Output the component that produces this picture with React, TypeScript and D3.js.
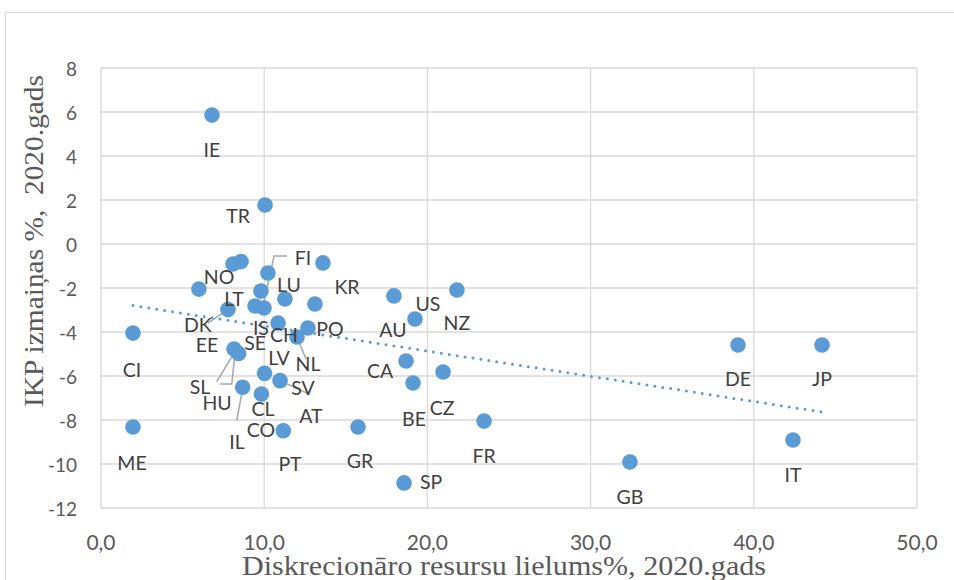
import React from "react";
import * as d3 from "d3";

// ---- Data ----
const countries = [
  "IE", "TR", "CI", "ME", "DE", "JP", "IT", "GB", "NZ", "AU", "US", "CA", "CZ",
  "BE", "FR", "SP", "GR", "KR", "LT", "NO", "LU", "DK", "IS", "CH", "AT", "EE",
  "SE", "FI", "LV", "PO", "NL", "SL", "HU", "CL", "SV", "IL", "CO", "PT",
];
const discretionaryPct = [
  6.8, 10.05, 1.96, 1.96, 39.03, 44.18, 42.4, 32.41, 21.81, 17.95, 19.24, 18.69, 20.96,
  19.12, 23.47, 18.57, 15.75, 13.6, 8.09, 8.58, 10.23, 6.0, 9.8, 11.27, 13.11, 7.78,
  9.44, 9.99, 10.85, 12.68, 12.01, 8.15, 8.43, 10.02, 10.97, 8.68, 9.83, 11.17,
];
const gdpChangePct = [
  5.86, 1.77, -4.05, -8.32, -4.59, -4.59, -8.91, -9.91, -2.09, -2.36, -3.41, -5.32, -5.82,
  -6.32, -8.05, -10.86, -8.32, -0.86, -0.91, -0.8, -1.32, -2.05, -2.14, -2.5, -2.73, -2.98,
  -2.82, -2.91, -3.59, -3.82, -4.23, -4.77, -4.98, -5.88, -6.21, -6.51, -6.82, -8.49,
];
const xTicks = [0, 10, 20, 30, 40, 50];
const yTicks = [8, 6, 4, 2, 0, -2, -4, -6, -8, -10, -12];
const xTitle = "Diskrecionāro resursu lielums%, 2020.gads";
const yTitle = "IKP izmaiņas %,  2020.gads";

// ---- Label placement (layout only, pixel offsets from the marker) ----
type Lbl = { dx: number; dy: number; leader?: [number, number][] };
const labelLayout: Record<string, Lbl> = {
  IE: { dx: 0, dy: 34 }, TR: { dx: -27, dy: 10 }, CI: { dx: -1, dy: 36 }, ME: { dx: -1, dy: 35 },
  DE: { dx: 0, dy: 34 }, JP: { dx: 0, dy: 34 }, IT: { dx: 0, dy: 34 }, GB: { dx: 0, dy: 34 },
  NZ: { dx: 0, dy: 33 }, AU: { dx: -1, dy: 34 }, US: { dx: 13, dy: -16 }, CA: { dx: -26, dy: 9 },
  CZ: { dx: -1, dy: 35 }, BE: { dx: 1, dy: 35 }, FR: { dx: 0, dy: 34 }, SP: { dx: 27, dy: -1 },
  GR: { dx: 2, dy: 33 }, KR: { dx: 24, dy: 24 }, LT: { dx: 1, dy: 34 }, NO: { dx: -22, dy: 15 },
  LU: { dx: 21, dy: 11 }, DK: { dx: -1, dy: 35 }, IS: { dx: 0, dy: 36 }, CH: { dx: -1, dy: 35 },
  AT: { dx: -4, dy: 111 },
  EE: { dx: -21, dy: 34.5, leader: [[-20, 13.5], [-4, 2.5]] },
  SE: { dx: 0, dy: 36 },
  FI: { dx: 39, dy: -51, leader: [[23, -52], [10, -52], [-1, -2]] },
  LV: { dx: 1, dy: 35 }, PO: { dx: 22, dy: 0 },
  NL: { dx: 11, dy: 26, leader: [[0, 0], [9, 22]] },
  SL: { dx: -34, dy: 38, leader: [[-17.3, 32.7], [1, 2.7]] },
  HU: { dx: -21.5, dy: 48.5, leader: [[-18.5, 30.5], [-6.8, 30.5], [-3.5, -0.5]] },
  CL: { dx: -1.5, dy: 35 },
  SV: { dx: 23, dy: 7, leader: [[0, 0], [28, 13]] },
  IL: { dx: -5.7, dy: 54.7, leader: [[0, 2], [-6, 33.4]] },
  CO: { dx: -0.5, dy: 35 }, PT: { dx: 6.7, dy: 32.3 },
};

const BLUE = "#5B9BD5";
const GRID = "#D9D9D9";
const SANS = "Lato, 'Open Sans', sans-serif";
const SERIF = "'Liberation Serif', 'Times New Roman', serif";

export default function App() {
  const W = 954;
  const H = 580;
  const x = d3.scaleLinear().domain([0, 50]).range([101, 917]);
  const y = d3.scaleLinear().domain([-12, 8]).range([508, 68]);
  const fmt = (v: number) => d3.format(".1f")(v).replace(".", ",");

  // linear trendline (least squares)
  const n = discretionaryPct.length;
  const mx = d3.mean(discretionaryPct)!;
  const my = d3.mean(gdpChangePct)!;
  let sxy = 0, sxx = 0;
  for (let i = 0; i < n; i++) {
    sxy += (discretionaryPct[i] - mx) * (gdpChangePct[i] - my);
    sxx += (discretionaryPct[i] - mx) ** 2;
  }
  const slope = sxy / sxx;
  const icpt = my - slope * mx;
  const [x0, x1] = d3.extent(discretionaryPct) as [number, number];
  const trend = d3.line<number>().x((d) => x(d)).y((d) => y(icpt + slope * d))([x0, x1]);

  const pts = countries.map((c, i) => ({
    c,
    px: x(discretionaryPct[i]),
    py: y(gdpChangePct[i]),
    l: labelLayout[c] || { dx: 0, dy: 34 },
  }));

  return (
    <svg width={W} height={H} style={{ position: "absolute", left: 0, top: 0, background: "#fff" }}>
      <rect x={5.5} y={12.5} width={1000} height={1000} fill="#fff" stroke={GRID} />
      {/* grid */}
      {xTicks.map((t) => (
        <line key={"gx" + t} x1={x(t)} x2={x(t)} y1={y(8)} y2={y(-12)} stroke={GRID} strokeWidth={1.3} />
      ))}
      {yTicks.map((t) => (
        <line key={"gy" + t} x1={x(0)} x2={x(50)} y1={y(t)} y2={y(t)} stroke={GRID} strokeWidth={1.3} />
      ))}
      {/* tick labels */}
      {yTicks.map((t) => (
        <text key={"ty" + t} x={77} y={y(t)} textAnchor="end" dominantBaseline="central"
          fontFamily={SANS} fontSize={19} fill="#595959">{t}</text>
      ))}
      {xTicks.map((t) => (
        <text key={"tx" + t} x={x(t)} y={541} textAnchor="middle" dominantBaseline="central"
          fontFamily={SANS} fontSize={21} fill="#595959">{fmt(t)}</text>
      ))}
      {/* leaders */}
      {pts.filter((p) => p.l.leader).map((p) => (
        <polyline key={"ld" + p.c}
          points={p.l.leader!.map(([a, b]) => `${p.px + a},${p.py + b}`).join(" ")}
          fill="none" stroke="#A6A6A6" strokeWidth={1.5} />
      ))}
      {/* markers */}
      {pts.map((p) => (
        <circle key={"m" + p.c} cx={p.px} cy={p.py} r={7.8} fill={BLUE} />
      ))}
      {/* trendline */}
      <path d={trend || ""} fill="none" stroke={BLUE} strokeWidth={3} strokeLinecap="round" strokeDasharray="0 8" />
      {/* data labels */}
      {pts.map((p) => (
        <text key={"l" + p.c} x={p.px + p.l.dx} y={p.py + p.l.dy} textAnchor="middle" dominantBaseline="central"
          fontFamily={SANS} fontSize={19.5} fill="#404040">{p.c}</text>
      ))}
      {/* axis titles */}
      <text x={504} y={575} textAnchor="middle" fontFamily={SERIF} fontSize={27} fill="#595959"
        textLength={524} lengthAdjust="spacingAndGlyphs">{xTitle}</text>
      <text transform="translate(43,241) rotate(-90)" textAnchor="middle" fontFamily={SERIF} fontSize={27}
        fill="#595959" textLength={332} lengthAdjust="spacingAndGlyphs" style={{ whiteSpace: "pre" }}>{yTitle}</text>
    </svg>
  );
}
